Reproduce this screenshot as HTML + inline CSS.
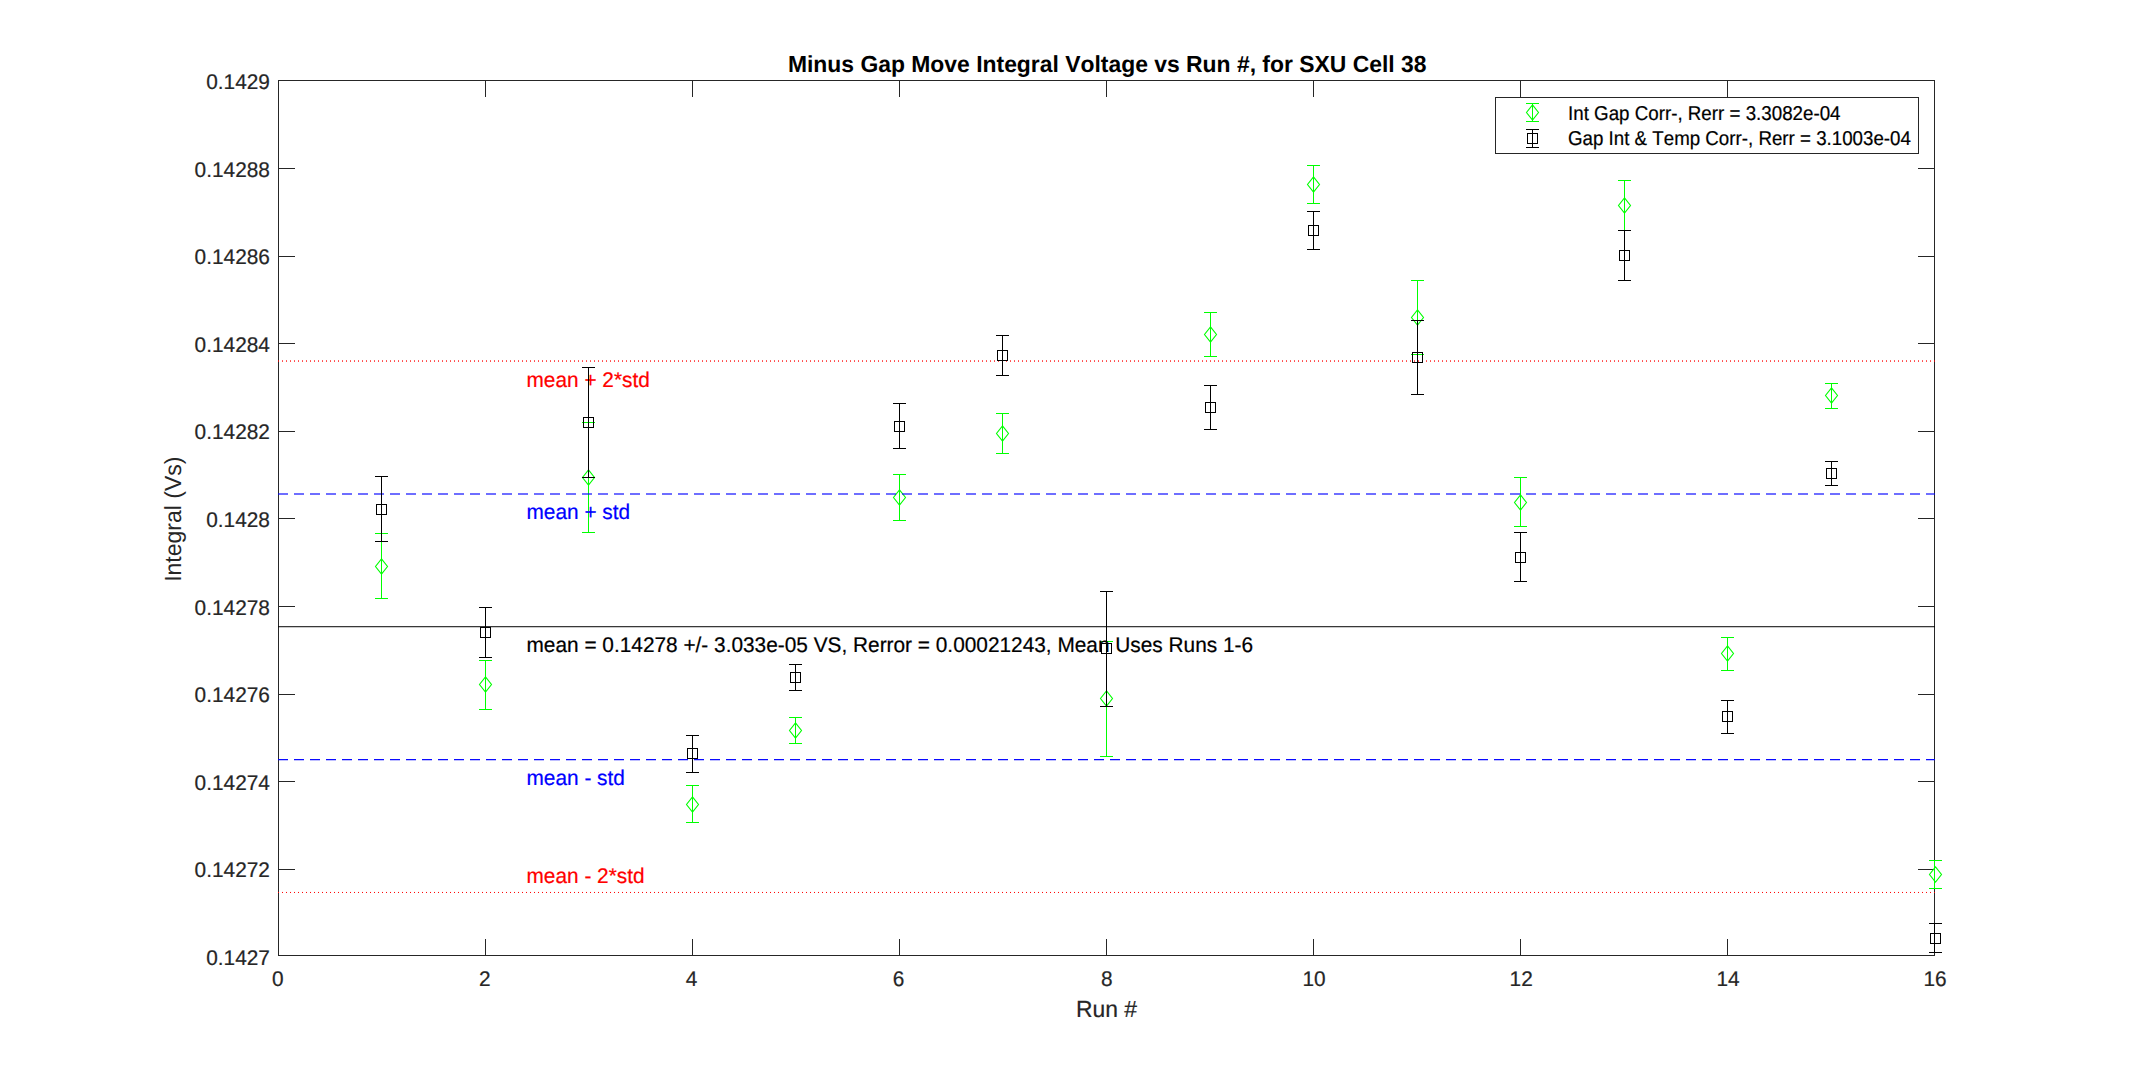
<!DOCTYPE html>
<html lang="en"><head><meta charset="utf-8"><title>Minus Gap Move Integral Voltage vs Run #, for SXU Cell 38</title>
<style>
html,body{margin:0;padding:0;background:#fff;}
body{width:2138px;height:1075px;overflow:hidden;}
svg{display:block;position:absolute;left:0;top:0;}
text{font-family:"Liberation Sans",Arial,Helvetica,sans-serif;text-rendering:geometricPrecision;font-kerning:none;}
.tk{font-size:20.83px;fill:#262626;stroke:#262626;stroke-width:0.2px;}
.lb{font-size:22.9px;fill:#262626;stroke:#262626;stroke-width:0.2px;}
.yl{font-size:22.9px;fill:#262626;}
.ti{font-size:22.9px;font-weight:bold;fill:#000;}
.lg{font-size:18.75px;fill:#000;stroke:#000;stroke-width:0.2px;}
.an{font-size:20.83px;stroke-width:0.2px;}
.cr{shape-rendering:crispEdges;}
</style></head><body>
<svg width="2138" height="1075" viewBox="0 0 2138 1075">
<rect x="0" y="0" width="2138" height="1075" fill="#ffffff"/>
<g class="cr" stroke="#262626" stroke-width="1" fill="none">
<rect x="278.5" y="80.5" width="1656.0" height="875.0"/>
<path d="M485.5 955.5V939.0M485.5 80.5V97.0M692.5 955.5V939.0M692.5 80.5V97.0M899.5 955.5V939.0M899.5 80.5V97.0M1106.5 955.5V939.0M1106.5 80.5V97.0M1313.5 955.5V939.0M1313.5 80.5V97.0M1520.5 955.5V939.0M1520.5 80.5V97.0M1727.5 955.5V939.0M1727.5 80.5V97.0M278.5 168.5H295.0M1934.5 168.5H1918.0M278.5 256.5H295.0M1934.5 256.5H1918.0M278.5 343.5H295.0M1934.5 343.5H1918.0M278.5 431.5H295.0M1934.5 431.5H1918.0M278.5 518.5H295.0M1934.5 518.5H1918.0M278.5 606.5H295.0M1934.5 606.5H1918.0M278.5 694.5H295.0M1934.5 694.5H1918.0M278.5 781.5H295.0M1934.5 781.5H1918.0M278.5 869.5H295.0M1934.5 869.5H1918.0"/>
</g>
<g id="series-green">
<g stroke="#00ff00" fill="none" stroke-width="1"><path d="M381.5 533.5V598.5M375.0 533.5H388.0M375.0 598.5H388.0"/><path stroke-width="1.1" d="M381.5 558.9L387.5 566.5L381.5 574.1L375.5 566.5Z"/></g>
<g stroke="#00ff00" fill="none" stroke-width="1"><path d="M485.5 660.5V709.5M479.0 660.5H492.0M479.0 709.5H492.0"/><path stroke-width="1.1" d="M485.5 676.9L491.5 684.5L485.5 692.1L479.5 684.5Z"/></g>
<g stroke="#00ff00" fill="none" stroke-width="1"><path d="M588.5 422.5V532.5M582.0 422.5H595.0M582.0 532.5H595.0"/><path stroke-width="1.1" d="M588.5 469.9L594.5 477.5L588.5 485.1L582.5 477.5Z"/></g>
<g stroke="#00ff00" fill="none" stroke-width="1"><path d="M692.5 785.5V822.5M686.0 785.5H699.0M686.0 822.5H699.0"/><path stroke-width="1.1" d="M692.5 796.9L698.5 804.5L692.5 812.1L686.5 804.5Z"/></g>
<g stroke="#00ff00" fill="none" stroke-width="1"><path d="M795.5 717.5V743.5M789.0 717.5H802.0M789.0 743.5H802.0"/><path stroke-width="1.1" d="M795.5 722.9L801.5 730.5L795.5 738.1L789.5 730.5Z"/></g>
<g stroke="#00ff00" fill="none" stroke-width="1"><path d="M899.5 474.5V520.5M893.0 474.5H906.0M893.0 520.5H906.0"/><path stroke-width="1.1" d="M899.5 489.9L905.5 497.5L899.5 505.1L893.5 497.5Z"/></g>
<g stroke="#00ff00" fill="none" stroke-width="1"><path d="M1002.5 413.5V453.5M996.0 413.5H1009.0M996.0 453.5H1009.0"/><path stroke-width="1.1" d="M1002.5 425.9L1008.5 433.5L1002.5 441.1L996.5 433.5Z"/></g>
<g stroke="#00ff00" fill="none" stroke-width="1"><path d="M1106.5 641.5V756.5M1100.0 641.5H1113.0M1100.0 756.5H1113.0"/><path stroke-width="1.1" d="M1106.5 690.9L1112.5 698.5L1106.5 706.1L1100.5 698.5Z"/></g>
<g stroke="#00ff00" fill="none" stroke-width="1"><path d="M1210.5 312.5V356.5M1204.0 312.5H1217.0M1204.0 356.5H1217.0"/><path stroke-width="1.1" d="M1210.5 326.9L1216.5 334.5L1210.5 342.1L1204.5 334.5Z"/></g>
<g stroke="#00ff00" fill="none" stroke-width="1"><path d="M1313.5 165.5V203.5M1307.0 165.5H1320.0M1307.0 203.5H1320.0"/><path stroke-width="1.1" d="M1313.5 176.9L1319.5 184.5L1313.5 192.1L1307.5 184.5Z"/></g>
<g stroke="#00ff00" fill="none" stroke-width="1"><path d="M1417.5 280.5V354.5M1411.0 280.5H1424.0M1411.0 354.5H1424.0"/><path stroke-width="1.1" d="M1417.5 309.9L1423.5 317.5L1417.5 325.1L1411.5 317.5Z"/></g>
<g stroke="#00ff00" fill="none" stroke-width="1"><path d="M1520.5 477.5V526.5M1514.0 477.5H1527.0M1514.0 526.5H1527.0"/><path stroke-width="1.1" d="M1520.5 494.9L1526.5 502.5L1520.5 510.1L1514.5 502.5Z"/></g>
<g stroke="#00ff00" fill="none" stroke-width="1"><path d="M1624.5 180.5V230.5M1618.0 180.5H1631.0M1618.0 230.5H1631.0"/><path stroke-width="1.1" d="M1624.5 197.9L1630.5 205.5L1624.5 213.1L1618.5 205.5Z"/></g>
<g stroke="#00ff00" fill="none" stroke-width="1"><path d="M1727.5 637.5V670.5M1721.0 637.5H1734.0M1721.0 670.5H1734.0"/><path stroke-width="1.1" d="M1727.5 645.9L1733.5 653.5L1727.5 661.1L1721.5 653.5Z"/></g>
<g stroke="#00ff00" fill="none" stroke-width="1"><path d="M1831.5 383.5V408.5M1825.0 383.5H1838.0M1825.0 408.5H1838.0"/><path stroke-width="1.1" d="M1831.5 387.9L1837.5 395.5L1831.5 403.1L1825.5 395.5Z"/></g>
<g stroke="#00ff00" fill="none" stroke-width="1"><path d="M1934.5 860.5V888.5M1929.0 860.5H1942.0M1929.0 888.5H1942.0"/><path stroke-width="1.1" d="M1935.5 866.9L1941.5 874.5L1935.5 882.1L1929.5 874.5Z"/></g>
</g>
<g id="reflines" fill="none" stroke-width="1">
<line x1="278" x2="1935" y1="360.5" y2="360.5" stroke="#ff0000" stroke-opacity="0.62" stroke-dasharray="1 3"/>
<line x1="278" x2="1935" y1="361.5" y2="361.5" stroke="#ff0000" stroke-opacity="0.7" stroke-dasharray="1 3"/>
<line x1="278" x2="1935" y1="493.5" y2="493.5" stroke="#0000ff" stroke-opacity="0.57" stroke-dasharray="10 6"/>
<line x1="278" x2="1935" y1="494.5" y2="494.5" stroke="#0000ff" stroke-opacity="0.57" stroke-dasharray="10 6"/>
<line x1="278" x2="1935" y1="626.5" y2="626.5" stroke="#000000" stroke-opacity="0.78"/>
<line x1="278" x2="1935" y1="627.5" y2="627.5" stroke="#000000" stroke-opacity="0.21"/>
<line x1="278" x2="1935" y1="759.5" y2="759.5" stroke="#0000ff" stroke-opacity="0.96" stroke-dasharray="10 6"/>
<line x1="278" x2="1935" y1="760.5" y2="760.5" stroke="#0000ff" stroke-opacity="0.25" stroke-dasharray="10 6"/>
<line x1="278" x2="1935" y1="892.5" y2="892.5" stroke="#ff0000" stroke-opacity="0.96" stroke-dasharray="1 3"/>
<line x1="278" x2="1935" y1="891.5" y2="891.5" stroke="#ff0000" stroke-opacity="0.05" stroke-dasharray="1 3"/>
</g>
<g id="annotations">
<text class="an" fill="#ff0000" stroke="#ff0000" transform="translate(526.5 386.8) scale(1 1.02)">mean + 2*std</text>
<text class="an" fill="#0000ff" stroke="#0000ff" transform="translate(526.5 518.8) scale(1 1.02)">mean + std</text>
<text class="an" fill="#000000" stroke="#000000" transform="translate(526.5 651.9) scale(1 1.02)">mean = 0.14278 +/- 3.033e-05 VS, Rerror = 0.00021243, Mean Uses Runs 1-6</text>
<text class="an" fill="#0000ff" stroke="#0000ff" transform="translate(526.5 784.6) scale(1 1.02)">mean - std</text>
<text class="an" fill="#ff0000" stroke="#ff0000" transform="translate(526.5 882.6) scale(1 1.02)">mean - 2*std</text>
</g>
<g id="series-black">
<g stroke="#000000" fill="none" stroke-width="1"><path d="M381.5 476.5V541.5M375.0 476.5H388.0M375.0 541.5H388.0"/><rect class="cr" x="376.5" y="504.5" width="10.0" height="10.0"/></g>
<g stroke="#000000" fill="none" stroke-width="1"><path d="M485.5 607.5V657.5M479.0 607.5H492.0M479.0 657.5H492.0"/><rect class="cr" x="480.5" y="627.5" width="10.0" height="10.0"/></g>
<g stroke="#000000" fill="none" stroke-width="1"><path d="M588.5 367.5V477.5M582.0 367.5H595.0M582.0 477.5H595.0"/><rect class="cr" x="583.5" y="417.5" width="10.0" height="10.0"/></g>
<g stroke="#000000" fill="none" stroke-width="1"><path d="M692.5 735.5V772.5M686.0 735.5H699.0M686.0 772.5H699.0"/><rect class="cr" x="687.5" y="748.5" width="10.0" height="10.0"/></g>
<g stroke="#000000" fill="none" stroke-width="1"><path d="M795.5 664.5V690.5M789.0 664.5H802.0M789.0 690.5H802.0"/><rect class="cr" x="790.5" y="672.5" width="10.0" height="10.0"/></g>
<g stroke="#000000" fill="none" stroke-width="1"><path d="M899.5 403.5V448.5M893.0 403.5H906.0M893.0 448.5H906.0"/><rect class="cr" x="894.5" y="421.5" width="10.0" height="10.0"/></g>
<g stroke="#000000" fill="none" stroke-width="1"><path d="M1002.5 335.5V375.5M996.0 335.5H1009.0M996.0 375.5H1009.0"/><rect class="cr" x="997.5" y="350.5" width="10.0" height="10.0"/></g>
<g stroke="#000000" fill="none" stroke-width="1"><path d="M1106.5 591.5V706.5M1100.0 591.5H1113.0M1100.0 706.5H1113.0"/><rect class="cr" x="1101.5" y="643.5" width="10.0" height="10.0"/></g>
<g stroke="#000000" fill="none" stroke-width="1"><path d="M1210.5 385.5V429.5M1204.0 385.5H1217.0M1204.0 429.5H1217.0"/><rect class="cr" x="1205.5" y="402.5" width="10.0" height="10.0"/></g>
<g stroke="#000000" fill="none" stroke-width="1"><path d="M1313.5 211.5V249.5M1307.0 211.5H1320.0M1307.0 249.5H1320.0"/><rect class="cr" x="1308.5" y="225.5" width="10.0" height="10.0"/></g>
<g stroke="#000000" fill="none" stroke-width="1"><path d="M1417.5 320.5V394.5M1411.0 320.5H1424.0M1411.0 394.5H1424.0"/><rect class="cr" x="1412.5" y="352.5" width="10.0" height="10.0"/></g>
<g stroke="#000000" fill="none" stroke-width="1"><path d="M1520.5 532.5V581.5M1514.0 532.5H1527.0M1514.0 581.5H1527.0"/><rect class="cr" x="1515.5" y="552.5" width="10.0" height="10.0"/></g>
<g stroke="#000000" fill="none" stroke-width="1"><path d="M1624.5 230.5V280.5M1618.0 230.5H1631.0M1618.0 280.5H1631.0"/><rect class="cr" x="1619.5" y="250.5" width="10.0" height="10.0"/></g>
<g stroke="#000000" fill="none" stroke-width="1"><path d="M1727.5 700.5V733.5M1721.0 700.5H1734.0M1721.0 733.5H1734.0"/><rect class="cr" x="1722.5" y="711.5" width="10.0" height="10.0"/></g>
<g stroke="#000000" fill="none" stroke-width="1"><path d="M1831.5 461.5V485.5M1825.0 461.5H1838.0M1825.0 485.5H1838.0"/><rect class="cr" x="1826.5" y="468.5" width="10.0" height="10.0"/></g>
<g stroke="#000000" fill="none" stroke-width="1"><path d="M1934.5 923.5V952.5M1929.0 923.5H1942.0M1929.0 952.5H1942.0"/><rect class="cr" x="1930.5" y="933.5" width="10.0" height="10.0"/></g>
</g>
<g id="yticklabels">
<text class="tk" text-anchor="end" transform="translate(269.9 89) scale(1 1.02)">0.1429</text>
<text class="tk" text-anchor="end" transform="translate(269.9 177) scale(1 1.02)">0.14288</text>
<text class="tk" text-anchor="end" transform="translate(269.9 264) scale(1 1.02)">0.14286</text>
<text class="tk" text-anchor="end" transform="translate(269.9 352) scale(1 1.02)">0.14284</text>
<text class="tk" text-anchor="end" transform="translate(269.9 439) scale(1 1.02)">0.14282</text>
<text class="tk" text-anchor="end" transform="translate(269.9 527) scale(1 1.02)">0.1428</text>
<text class="tk" text-anchor="end" transform="translate(269.9 615) scale(1 1.02)">0.14278</text>
<text class="tk" text-anchor="end" transform="translate(269.9 702) scale(1 1.02)">0.14276</text>
<text class="tk" text-anchor="end" transform="translate(269.9 790) scale(1 1.02)">0.14274</text>
<text class="tk" text-anchor="end" transform="translate(269.9 877) scale(1 1.02)">0.14272</text>
<text class="tk" text-anchor="end" transform="translate(269.9 965) scale(1 1.02)">0.1427</text>
</g>
<g id="xticklabels">
<text class="tk" text-anchor="middle" transform="translate(277.85 986) scale(1 1.02)">0</text>
<text class="tk" text-anchor="middle" transform="translate(484.8 986) scale(1 1.02)">2</text>
<text class="tk" text-anchor="middle" transform="translate(691.6 986) scale(1 1.02)">4</text>
<text class="tk" text-anchor="middle" transform="translate(898.6 986) scale(1 1.02)">6</text>
<text class="tk" text-anchor="middle" transform="translate(1106.9 986) scale(1 1.02)">8</text>
<text class="tk" text-anchor="middle" transform="translate(1314.1 986) scale(1 1.02)">10</text>
<text class="tk" text-anchor="middle" transform="translate(1521.2 986) scale(1 1.02)">12</text>
<text class="tk" text-anchor="middle" transform="translate(1728.05 986) scale(1 1.02)">14</text>
<text class="tk" text-anchor="middle" transform="translate(1935.1 986) scale(1 1.02)">16</text>
</g>
<text class="lb" text-anchor="middle" transform="translate(1106.5 1017) scale(1 1.02)">Run #</text>
<text class="yl" text-anchor="middle" transform="translate(180.6 519.2) rotate(-90) scale(1.005 1.02)">Integral (Vs)</text>
<text class="ti" text-anchor="middle" transform="translate(1107.2 72) scale(1 1.016)">Minus Gap Move Integral Voltage vs Run #, for SXU Cell 38</text>
<g id="legend">
<rect class="cr" x="1495.5" y="97.5" width="423" height="56" fill="#ffffff" stroke="#262626" stroke-width="1"/>
<g stroke="#00ff00" fill="none" stroke-width="1"><path d="M1532.5 103.5V121.5M1526.0 103.5H1539.0M1526.0 121.5H1539.0"/><path stroke-width="1.1" d="M1532.5 104.9L1538.5 112.5L1532.5 120.1L1526.5 112.5Z"/></g>
<g stroke="#000000" fill="none" stroke-width="1"><path d="M1532.5 129.5V147.5M1526.0 129.5H1539.0M1526.0 147.5H1539.0"/><rect class="cr" x="1527.5" y="133.5" width="10.0" height="10.0"/></g>
<text class="lg" transform="translate(1568 120) scale(1 1.065)">Int Gap Corr-, Rerr = 3.3082e-04</text>
<text class="lg" transform="translate(1568 145) scale(0.9985 1.065)">Gap Int &amp; Temp Corr-, Rerr = 3.1003e-04</text>
</g>
</svg>
</body></html>
